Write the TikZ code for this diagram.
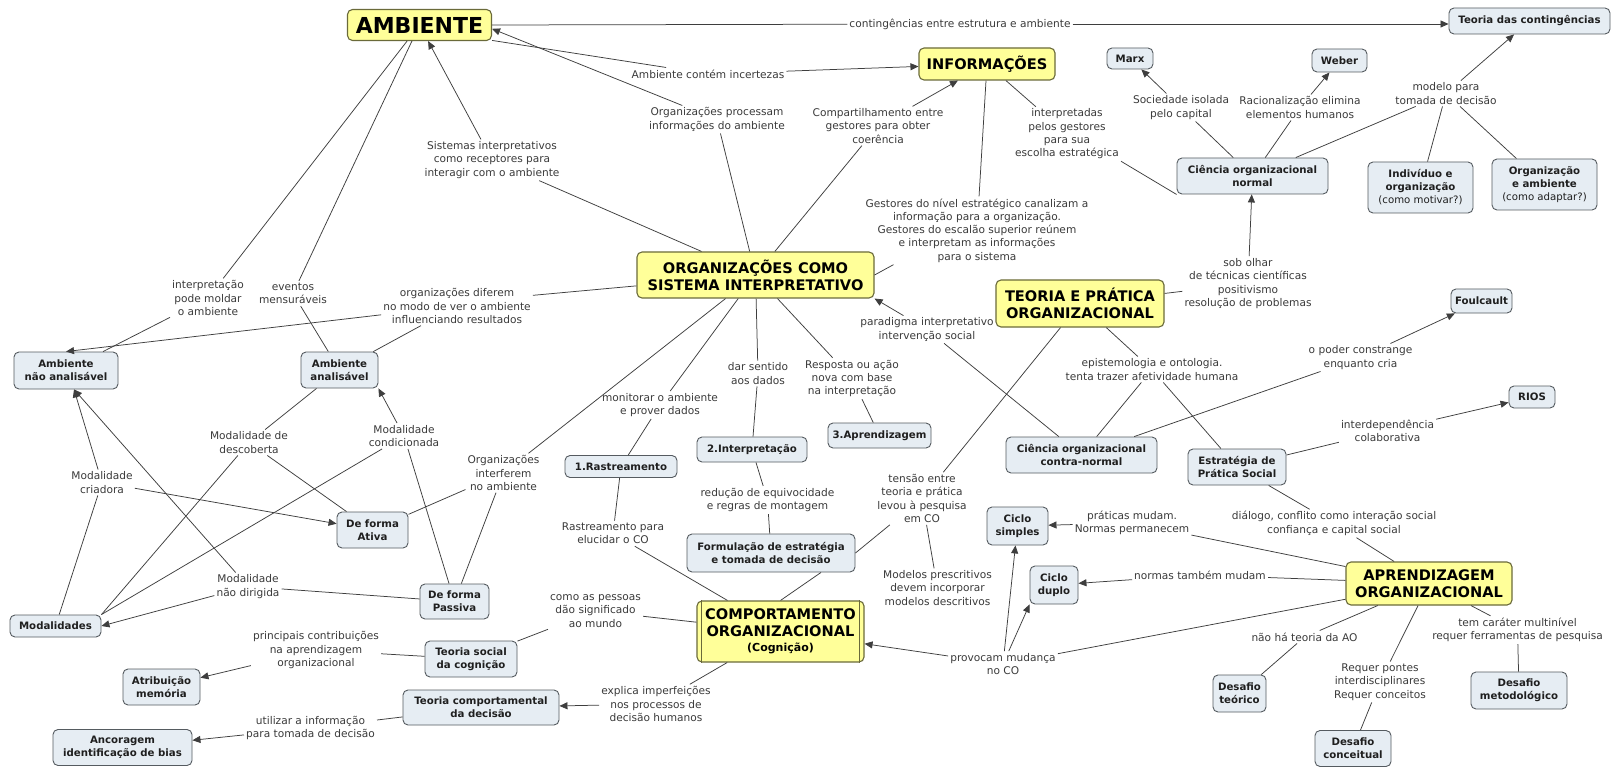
\documentclass[tikz,border=0pt]{standalone}
\usepackage{fontspec}
\setmainfont{DejaVu Sans}
\usetikzlibrary{arrows.meta}

\definecolor{linkc}{HTML}{3E3E3E}
\definecolor{lblc}{HTML}{3A3A3A}
\definecolor{mainfill}{HTML}{FFFF99}
\definecolor{mainedge}{HTML}{6A6A3A}
\definecolor{subfill}{HTML}{E6EDF3}
\definecolor{subedge}{HTML}{555B60}

\tikzset{
  sz/.style 2 args={minimum width=#1pt, minimum height=#2pt},
  base/.style={rounded corners=5pt, align=center, inner sep=2pt},
  main/.style={base, fill=mainfill, draw=mainedge, line width=1.1pt,
    font=\fontsize{14.6}{17}\selectfont\bfseries, text=black},
  sub/.style={base, fill=subfill, draw=subedge, line width=0.9pt,
    font=\fontsize{10.2}{13}\selectfont\bfseries, text=black!88},
  lbl/.style={align=center, inner sep=2pt, text=lblc,
    font=\fontsize{10.6}{13.3}\selectfont},
  con/.style={draw=linkc, line width=0.75pt},
  arr/.style={con, -{Triangle[length=8pt,width=7pt]}},
}

\begin{document}
\begin{tikzpicture}[x=1pt,y=-1pt]
\useasboundingbox (0,0) rectangle (1614,767);
\fill[white] (0,0) rectangle (1614,767);

% main concepts
\node[main, sz={144}{31}, font=\fontsize{22}{25}\selectfont\bfseries] (amb) at (419.5,25) {AMBIENTE};
\node[main, sz={136}{32}] (inf) at (987,64) {INFORMAÇÕES};
\node[main, sz={237}{46}] (org) at (755.5,275) {ORGANIZAÇÕES COMO\\SISTEMA INTERPRETATIVO};
\node[main, sz={168}{47}] (tp) at (1080,303.5) {TEORIA E PRÁTICA\\ORGANIZACIONAL};
\node[main, sz={166}{43}] (apr) at (1429,583.5) {APRENDIZAGEM\\ORGANIZACIONAL};
\node[main, sz={167}{61}] (co) at (780.5,631.5) {COMPORTAMENTO\\ORGANIZACIONAL\\[-2pt]{\fontsize{11}{13}\selectfont (Cognição)}};
\draw[mainedge, line width=1.1pt] ([xshift=5pt]co.north west) -- ([xshift=5pt]co.south west);
\draw[mainedge, line width=1.1pt] ([xshift=-5pt]co.north east) -- ([xshift=-5pt]co.south east);

% secondary concepts
\node[sub, sz={161}{26}] (tc) at (1529.5,21) {Teoria das contingências};
\node[sub, sz={46}{21}] (marx) at (1130,58.5) {Marx};
\node[sub, sz={55}{23}] (weber) at (1339.5,60.5) {Weber};
\node[sub, sz={151}{36}] (cn) at (1252.5,176) {Ciência organizacional\\normal};
\node[sub, sz={105}{51}] (ind) at (1420.5,187.5) {Indivíduo e\\organização\\{\mdseries (como motivar?)}};
\node[sub, sz={105}{51}] (oa) at (1544.5,184.5) {Organização\\e ambiente\\{\mdseries (como adaptar?)}};
\node[sub, sz={104}{37}] (ana) at (66,370.5) {Ambiente\\não analisável};
\node[sub, sz={77}{36}] (aa) at (339.5,370) {Ambiente\\analisável};
\node[sub, sz={71}{36}] (ativa) at (372.5,530) {De forma\\Ativa};
\node[sub, sz={69}{35}] (passiva) at (454.5,601.5) {De forma\\Passiva};
\node[sub, sz={91}{22}] (mod) at (55.5,626) {Modalidades};
\node[sub, sz={112}{22}] (r1) at (621,466.5) {1.Rastreamento};
\node[sub, sz={110}{25}] (i2) at (752,449.5) {2.Interpretação};
\node[sub, sz={103}{25}] (a3) at (879.5,435.5) {3.Aprendizagem};
\node[sub, sz={168}{38}] (form) at (771,553) {Formulação de estratégia\\e tomada de decisão};
\node[sub, sz={151}{36}] (ccn) at (1081.5,455) {Ciência organizacional\\contra-normal};
\node[sub, sz={98}{36}] (est) at (1237,467) {Estratégia de\\Prática Social};
\node[sub, sz={61}{24}] (fou) at (1481.5,301) {Foulcault};
\node[sub, sz={46}{22}] (rios) at (1532,397) {RIOS};
\node[sub, sz={61}{38}] (cs) at (1017.5,526) {Ciclo\\simples};
\node[sub, sz={48}{38}] (cd) at (1054,585) {Ciclo\\duplo};
\node[sub, sz={92}{36}] (tsc) at (471,659) {Teoria social\\da cognição};
\node[sub, sz={156}{35}] (tcd) at (481,707.5) {Teoria comportamental\\da decisão};
\node[sub, sz={77}{36}] (atr) at (161.5,687) {Atribuição\\memória};
\node[sub, sz={139}{36}] (anc) at (122.5,747.5) {Ancoragem\\identificação de bias};
\node[sub, sz={53}{37}] (dt) at (1239.5,693.5) {Desafio\\teórico};
\node[sub, sz={76}{36}] (dc) at (1353,748.5) {Desafio\\conceitual};
\node[sub, sz={96}{37}] (dm) at (1519,690.5) {Desafio\\metodológico};

% linking phrases
\node[lbl] (l_cont) at (960,24) {contingências entre estrutura e ambiente};
\node[lbl] (l_inc) at (708,74) {Ambiente contém incertezas};
\node[lbl] (l_proc) at (717,119.5) {Organizações processam\\informações do ambiente};
\node[lbl] (l_comp) at (878,126) {Compartilhamento entre\\gestores para obter\\coerência};
\node[lbl] (l_sist) at (492,160) {Sistemas interpretativos\\como receptores para\\interagir com o ambiente};
\node[lbl] (l_interp) at (1067,134) {interpretadas\\pelos gestores\\para sua\\escolha estratégica};
\node[lbl] (l_gest) at (977,230.5) {Gestores do nível estratégico canalizam a\\informação para a organização.\\Gestores do escalão superior reúnem\\e interpretam as informações\\para o sistema};
\node[lbl] (l_soc) at (1181,107.5) {Sociedade isolada\\pelo capital};
\node[lbl] (l_rac) at (1300,107.5) {Racionalização elimina\\elementos humanos};
\node[lbl] (l_mod) at (1446,93.5) {modelo para\\tomada de decisão};
\node[lbl] (l_sob) at (1248,283.5) {sob olhar\\de técnicas científicas\\positivismo\\resolução de problemas};
\node[lbl] (l_pmold) at (208,298) {interpretação\\pode moldar\\o ambiente};
\node[lbl] (l_ev) at (293,293.5) {eventos\\mensuráveis};
\node[lbl] (l_dif) at (457,306) {organizações diferem\\no modo de ver o ambiente\\influenciando resultados};
\node[lbl] (l_desc) at (249,442.5) {Modalidade de\\descoberta};
\node[lbl] (l_cond) at (404,436) {Modalidade\\condicionada};
\node[lbl] (l_cri) at (102,482.5) {Modalidade\\criadora};
\node[lbl] (l_ndir) at (248,586.5) {Modalidade\\não dirigida};
\node[lbl] (l_intf) at (503.5,473) {Organizações\\interferem\\no ambiente};
\node[lbl] (l_mon) at (660,405) {monitorar o ambiente\\e prover dados};
\node[lbl] (l_sent) at (758,373.5) {dar sentido\\aos dados};
\node[lbl] (l_resp) at (852,378.5) {Resposta ou ação\\nova com base\\na interpretação};
\node[lbl] (l_par) at (927,329.5) {paradigma interpretativo\\intervenção social};
\node[lbl] (l_epi) at (1152,369.5) {epistemologia e ontologia.\\tenta trazer afetividade humana};
\node[lbl] (l_pod) at (1360.5,357.5) {o poder constrange\\enquanto cria};
\node[lbl] (l_int) at (1387.5,430.5) {interdependência\\colaborativa};
\node[lbl] (l_rast) at (613,533.5) {Rastreamento para\\elucidar o CO};
\node[lbl] (l_red) at (767.5,500) {redução de equivocidade\\e regras de montagem};
\node[lbl] (l_ten) at (922,498.5) {tensão entre\\teoria e prática\\levou à pesquisa\\em CO};
\node[lbl] (l_modp) at (937.5,588) {Modelos prescritivos\\devem incorporar\\modelos descritivos};
\node[lbl] (l_prat) at (1132,523) {práticas mudam.\\Normas permanecem};
\node[lbl] (l_dial) at (1334,523.5) {diálogo, conflito como interação social\\confiança e capital social};
\node[lbl] (l_norm) at (1200,575) {normas também mudam};
\node[lbl] (l_prov) at (1003,664) {provocam mudança\\no CO};
\node[lbl] (l_pess) at (595.5,611) {como as pessoas\\dão significado\\ao mundo};
\node[lbl] (l_princ) at (316,650) {principais contribuições\\na aprendizagem\\organizacional};
\node[lbl] (l_util) at (310.5,728) {utilizar a informação\\para tomada de decisão};
\node[lbl] (l_expl) at (656,704) {explica imperfeições\\nos processos de\\decisão humanos};
\node[lbl] (l_nao) at (1304.5,637) {não há teoria da AO};
\node[lbl] (l_req) at (1380,682) {Requer pontes\\interdisciplinares\\Requer conceitos};
\node[lbl] (l_tem) at (1517.5,630) {tem caráter multinível\\requer ferramentas de pesquisa};

% AMBIENTE and INFORMAÇÕES
\draw[con] (l_cont) -- (amb.east);
\draw[arr] (l_cont) -- ([yshift=-3pt]tc.west);
\draw[con] (amb.348) -- (l_inc);
\draw[arr] (l_inc) -- (inf);
\draw[con] (org) -- (l_proc);
\draw[arr] (l_proc) -- (amb.357);
\draw[con] (org) -- (l_sist);
\draw[arr] (l_sist) -- (amb);
\draw[con] (org) -- (l_comp);
\draw[arr] (l_comp) -- (inf);
\draw[con] (inf) -- (l_gest);
\draw[con] ([xshift=30pt]l_gest.south west) -- (org.east);
\draw[con] (inf) -- (l_interp);
\draw[con] (l_interp.south east) -- (cn.south west);

% Ciência organizacional normal
\draw[con] (cn) -- (l_soc);
\draw[arr] (l_soc) -- (marx);
\draw[con] (cn) -- (l_rac);
\draw[arr] (l_rac) -- (weber);
\draw[con] (cn) -- (l_mod);
\draw[con] (ind) -- (l_mod);
\draw[con] (oa) -- (l_mod);
\draw[arr] (l_mod) -- (tc);

% environments and modalities
\draw[con] (amb) -- (l_pmold);
\draw[con] (l_pmold) -- (ana);
\draw[con] (amb) -- (l_ev);
\draw[con] (l_ev) -- (aa);
\draw[con] (org) -- (l_dif.8);
\draw[arr] (l_dif) -- (ana.north);
\draw[con] (l_dif) -- (aa);
\draw[con] (aa) -- (l_desc);
\draw[con] (l_desc) -- (ativa);
\draw[con] (l_desc) -- (mod.north east);
\draw[con] (passiva) -- (l_cond);
\draw[arr] (l_cond) -- (aa.south east);
\draw[con] (l_cond) -- (mod.north east);
\draw[con] (mod) -- (l_cri);
\draw[arr] (l_cri) -- ([xshift=8pt]ana.south);
\draw[arr] (l_cri) -- (ativa);
\draw[con] (passiva) -- (l_ndir);
\draw[arr] (l_ndir) -- (mod.east);
\draw[arr] (l_ndir) -- ([xshift=8pt]ana.south);
\draw[con] (org) -- (l_intf);
\draw[con] (l_intf) -- (ativa);
\draw[con] (l_intf) -- (passiva);

% interpretation stages
\draw[con] (org) -- (l_mon);
\draw[con] (l_mon) -- (r1);
\draw[con] (org) -- (l_sent);
\draw[con] (l_sent) -- (i2);
\draw[con] (org) -- (l_resp);
\draw[con] (l_resp) -- (a3);
\draw[con] (r1) -- (l_rast);
\draw[con] (l_rast) -- (co);
\draw[con] (i2) -- (l_red);
\draw[con] (l_red) -- (form);
\draw[con] ([xshift=50pt]form.south) -- (co.north);
\draw[con] (tp) -- (l_ten);
\draw[con] (l_ten) -- (form.east);
\draw[con] (l_ten) -- (l_modp);
\draw[con] (ccn) -- (l_par);
\draw[arr] (l_par) -- (org.south east);

% TEORIA E PRÁTICA
\draw[con] (tp) -- (l_sob);
\draw[arr] (l_sob) -- (cn);
\draw[con] (tp) -- (l_epi);
\draw[con] (l_epi) -- (ccn);
\draw[con] (l_epi) -- (est);
\draw[con] (ccn) -- (l_pod);
\draw[arr] (l_pod) -- (fou);
\draw[con] (est) -- (l_int);
\draw[arr] (l_int) -- (rios);
\draw[con] (est) -- (l_dial);
\draw[con] (l_dial) -- (apr);

% APRENDIZAGEM
\draw[con] (apr) -- (l_prat);
\draw[arr] (l_prat) -- (cs);
\draw[con] (apr) -- (l_norm);
\draw[arr] (l_norm) -- (cd);
\draw[con] (apr) -- (l_prov);
\draw[arr] (l_prov) -- (co);
\draw[arr] (l_prov) -- (cs);
\draw[arr] (l_prov) -- (cd.south west);
\draw[con] (apr) -- (l_nao);
\draw[con] (l_nao) -- (dt);
\draw[con] (apr) -- (l_req);
\draw[con] (l_req) -- (dc);
\draw[con] (apr) -- (l_tem);
\draw[con] (l_tem) -- (dm);

% COMPORTAMENTO
\draw[con] (co) -- (l_pess);
\draw[con] (l_pess) -- (tsc);
\draw[con] (tsc) -- (l_princ);
\draw[arr] (l_princ) -- (atr);
\draw[con] (co) -- (l_expl);
\draw[arr] (l_expl) -- (tcd);
\draw[con] (tcd) -- (l_util);
\draw[arr] (l_util) -- (anc);
\end{tikzpicture}
\end{document}
